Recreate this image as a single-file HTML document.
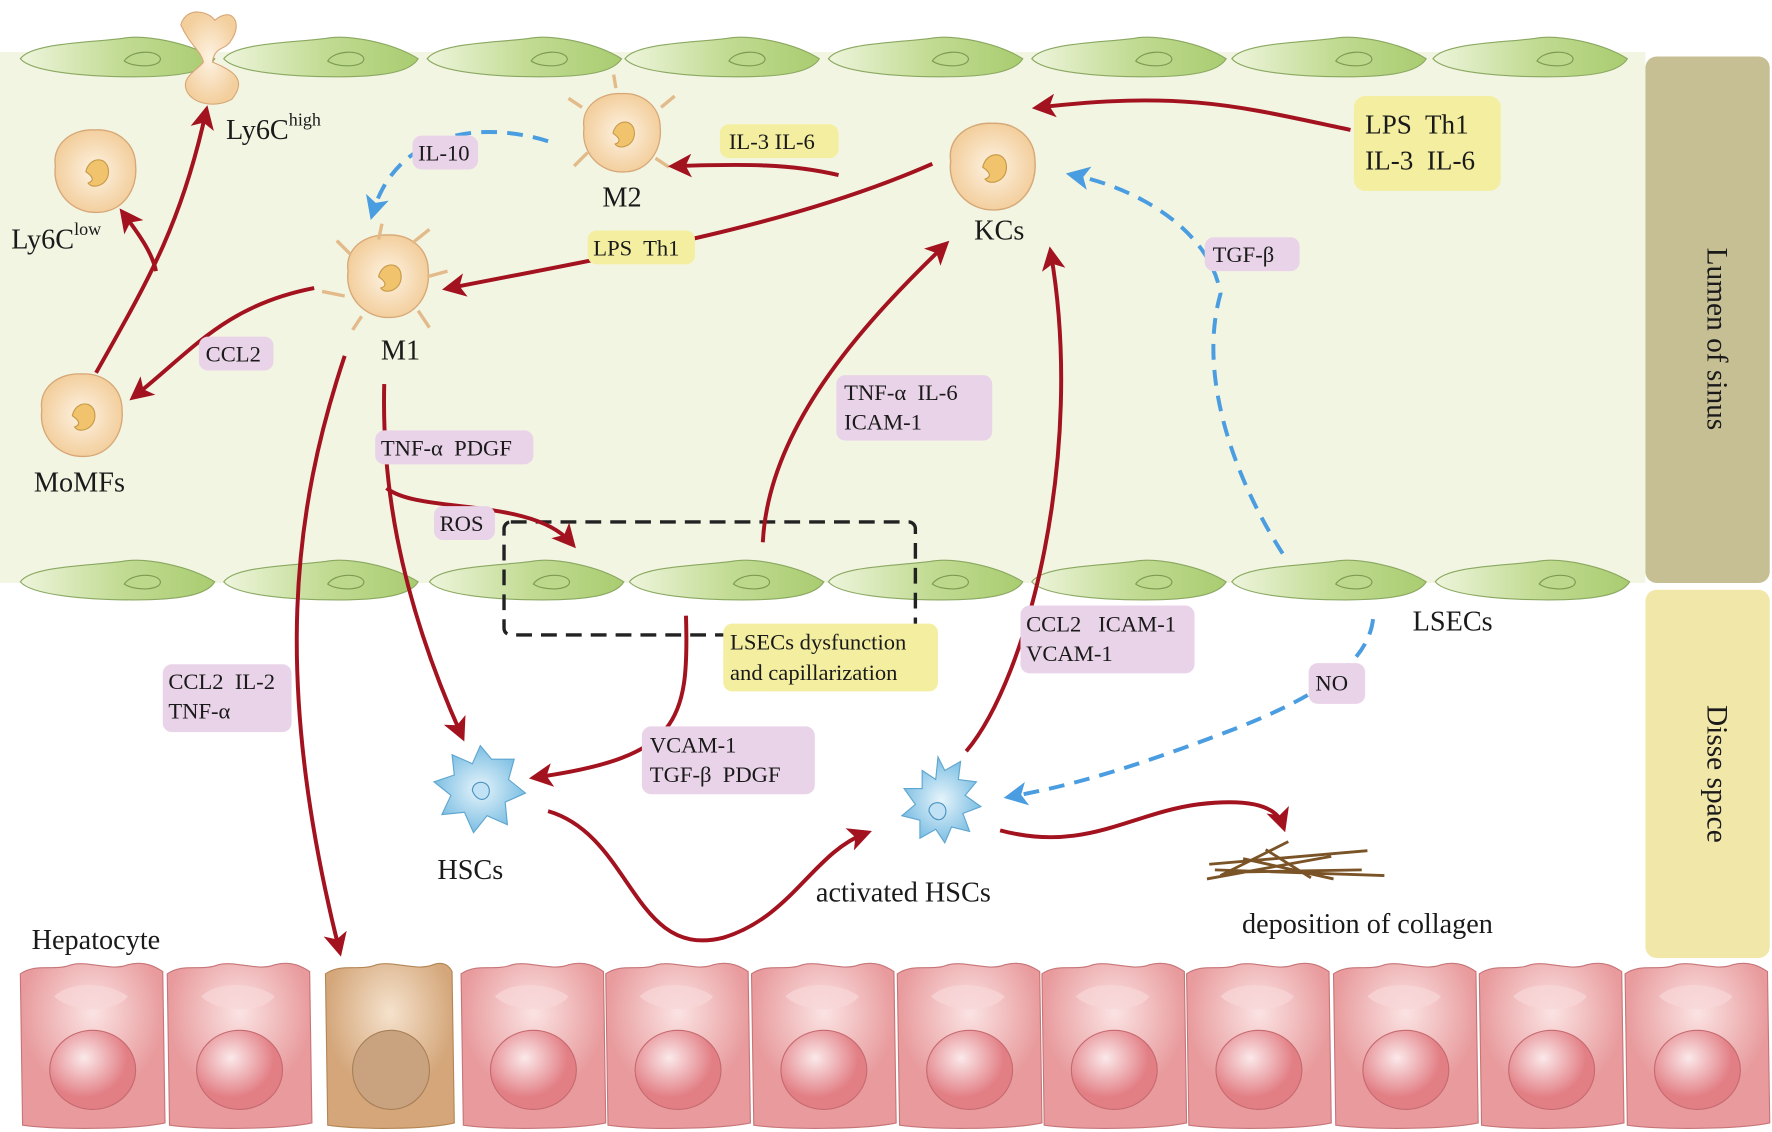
<!DOCTYPE html>
<html><head><meta charset="utf-8"><style>
html,body{margin:0;padding:0;background:#fff;}
svg{display:block;}
text{font-family:"Liberation Serif",serif;fill:#1a1a1a;white-space:pre;}
</style></head><body>
<svg width="1772" height="1132" viewBox="0 0 1568 1002" preserveAspectRatio="none" xmlns="http://www.w3.org/2000/svg" xml:space="preserve">
<defs>
<marker id="ar" markerWidth="6" markerHeight="6" refX="4" refY="3" orient="auto" markerUnits="strokeWidth"><path d="M0,0 L6,3 L0,6 L1.5,3 Z" fill="#a3121f"/></marker>
<marker id="ab" markerWidth="6" markerHeight="6" refX="4" refY="3" orient="auto" markerUnits="strokeWidth"><path d="M0,0 L6,3 L0,6 L1.5,3 Z" fill="#4a9de0"/></marker>
<linearGradient id="gg" x1="0" x2="1"><stop offset="0" stop-color="#eef5dc"/><stop offset="0.5" stop-color="#c3dc95"/><stop offset="1" stop-color="#a9cc70"/></linearGradient>
<radialGradient id="mg"><stop offset="0" stop-color="#fdf3e3"/><stop offset="1" stop-color="#f3cf9e"/></radialGradient>
<radialGradient id="bg"><stop offset="0" stop-color="#e6f4fb"/><stop offset="1" stop-color="#7dbfe3"/></radialGradient>
<radialGradient id="hg" cx="0.5" cy="0.3"><stop offset="0" stop-color="#fbe3e3"/><stop offset="1" stop-color="#e89a9c"/></radialGradient>
<radialGradient id="ng" cx="0.4" cy="0.35"><stop offset="0" stop-color="#fbe9ea"/><stop offset="1" stop-color="#e27f85"/></radialGradient>
<radialGradient id="hb" cx="0.5" cy="0.3"><stop offset="0" stop-color="#f5e2cc"/><stop offset="1" stop-color="#d4a67a"/></radialGradient>
<g id="lsec"><path d="M0,0 C10,-14 60,-14 90,-18 C110,-22 150,-14 172,0 C165,12 140,16 100,16 C60,16 10,12 0,0 Z" fill="url(#gg)" stroke="#8aa860" stroke-width="1"/><path d="M92,2 C98,-8 122,-8 124,0 C124,8 100,8 92,2 Z" fill="#bcd88a" stroke="#7c9a52" stroke-width="1"/></g>
<g id="mac"><path d="M-35,-5 C-38,-25 -20,-38 0,-37 C20,-38 36,-25 36,-5 C38,15 25,36 2,36 C-20,37 -38,18 -35,-5 Z" fill="url(#mg)" stroke="#d7a877" stroke-width="1.2"/><path d="M-8,0 C-5,-14 12,-14 12,0 C12,12 -2,16 -6,10 C0,8 -2,4 -8,0 Z" fill="#f0c36c" stroke="#c89a48"/></g>
<g id="hep"><path d="M0,10 C15,0 30,8 45,2 C60,-2 80,8 95,2 C110,-2 120,4 126,8 L128,142 C100,148 30,148 2,144 Z" fill="url(#hg)" stroke="#c77578" stroke-width="1"/><ellipse cx="64" cy="95" rx="38" ry="35" fill="url(#ng)" stroke="#c56a70"/><path d="M30,30 C45,15 80,18 95,30 C85,45 45,45 30,30Z" fill="#f8d7d8" opacity="0.7"/></g>
</defs>
<rect x="0" y="46" width="1456" height="470" fill="#f3f5e3"/>
<rect x="1456" y="50" width="110" height="466" rx="10" fill="#c7bf94"/>
<text x="1511" y="300" font-size="26" transform="rotate(90 1511 300)" text-anchor="middle">Lumen of sinus</text>
<rect x="1456" y="522" width="110" height="326" rx="10" fill="#f1e7a9"/>
<text x="1511" y="685" font-size="26" transform="rotate(90 1511 685)" text-anchor="middle">Disse space</text>
<use href="#lsec" x="18" y="52"/><use href="#lsec" x="198" y="52"/><use href="#lsec" x="378" y="52"/><use href="#lsec" x="553" y="52"/><use href="#lsec" x="733" y="52"/><use href="#lsec" x="913" y="52"/><use href="#lsec" x="1090" y="52"/><use href="#lsec" x="1268" y="52"/>
<use href="#lsec" x="18" y="515"/><use href="#lsec" x="198" y="515"/><use href="#lsec" x="380" y="515"/><use href="#lsec" x="557" y="515"/><use href="#lsec" x="733" y="515"/><use href="#lsec" x="913" y="515"/><use href="#lsec" x="1090" y="515"/><use href="#lsec" x="1270" y="515"/>
<path d="M160,22 C165,5 185,10 190,18 C205,5 215,20 205,35 C200,45 190,40 188,55 C205,62 220,70 205,88 C190,96 170,92 165,80 C160,68 175,62 180,55 C178,45 168,40 160,22Z" fill="url(#mg)" stroke="#d7a877"/>
<use href="#mac" x="84" y="152"/>
<use href="#mac" x="72" y="368"/>
<use href="#mac" transform="translate(550,118) scale(0.95)"/>
<g stroke="#e3bb8a" stroke-width="3" fill="none"><path d="M515,95 l-12,-8 M520,135 l-12,12 M585,95 l12,-10 M545,78 l-2,-12 M580,140 l12,8"/></g>
<use href="#mac" transform="translate(878,148) scale(1.05)"/>
<use href="#mac" x="343" y="245"/>
<g stroke="#e3bb8a" stroke-width="3" fill="none"><path d="M310,225 l-12,-12 M335,212 l3,-14 M365,215 l15,-12 M378,245 l18,-5 M370,275 l10,15 M305,262 l-20,-4 M320,280 l-8,12"/></g>
<path d="M425,660 l10,12 l20,0 l-5,18 l15,12 l-18,8 l2,20 l-18,-8 l-12,15 l-8,-18 l-20,2 l8,-17 l-15,-12 l18,-6 l-2,-18 l18,8 Z" fill="url(#bg)" stroke="#5ea5d0"/>
<path d="M418,700 c0,-10 15,-10 15,0 c0,8 -10,12 -15,0Z" fill="#c0e2f4" stroke="#4b92bf"/>
<path d="M830,670 l6,12 l14,-8 l-2,16 l16,2 l-10,12 l14,10 l-16,6 l6,16 l-16,-4 l-6,14 l-8,-12 l-14,8 l0,-16 l-16,-4 l12,-10 l-10,-14 l16,0 l0,-16 l12,8 Z" fill="url(#bg)" stroke="#5ea5d0"/>
<path d="M822,718 c0,-10 15,-10 15,0 c0,8 -10,12 -15,0Z" fill="#c0e2f4" stroke="#4b92bf"/>
<g stroke="#7a5326" stroke-width="2.5" fill="none"><path d="M1070,765 l140,-12 M1085,772 l120,-2 M1068,778 l110,-20 M1100,760 l80,18 M1120,752 l40,25 M1140,745 l-60,30 M1075,770 l150,5"/></g>
<use href="#hep" x="18" y="852"/><use href="#hep" x="148" y="852"/>
<g transform="translate(288,852)"><path d="M0,10 C15,0 30,8 45,2 C60,-2 80,8 95,2 C105,-2 110,4 112,8 L114,142 C90,148 30,148 2,144 Z" fill="url(#hb)" stroke="#b48654"/><ellipse cx="58" cy="95" rx="34" ry="35" fill="#c9a380" stroke="#a67f56"/></g>
<use href="#hep" x="408" y="852"/><use href="#hep" x="536" y="852"/><use href="#hep" x="665" y="852"/><use href="#hep" x="794" y="852"/><use href="#hep" x="922" y="852"/><use href="#hep" x="1050" y="852"/><use href="#hep" x="1180" y="852"/><use href="#hep" x="1309" y="852"/><use href="#hep" x="1438" y="852"/>
<rect x="446" y="462" width="364" height="100" rx="6" fill="none" stroke="#222" stroke-width="3" stroke-dasharray="14,8"/>
<g stroke="#a3121f" stroke-width="3.5" fill="none" marker-end="url(#ar)">
<path d="M1195,115 C1100,95 1050,80 920,95"/>
<path d="M742,155 C700,145 660,145 598,147"/>
<path d="M825,145 C700,200 550,225 398,255"/>
<path d="M278,255 C200,270 170,310 120,350"/>
<path d="M85,330 C130,250 160,200 182,100"/>
<path d="M138,240 C135,225 125,210 110,190"/>
<path d="M305,315 C260,450 240,600 300,840"/>
<path d="M340,340 C338,420 350,520 408,650"/>
<path d="M342,432 C370,455 470,440 505,480"/>
<path d="M675,480 C680,380 760,290 835,218"/>
<path d="M855,665 C910,600 960,400 930,225"/>
<path d="M607,545 C610,640 600,670 475,688"/>
<path d="M485,718 C560,740 560,850 640,830 C700,812 720,755 765,738"/>
<path d="M885,735 C960,755 1000,720 1060,712 C1110,706 1130,715 1135,730"/>
</g>
<g stroke="#4a9de0" stroke-width="3.5" fill="none" stroke-dasharray="14,9" marker-end="url(#ab)">
<path d="M485,125 C420,105 350,120 330,188"/>
<path d="M1135,490 C1090,420 1060,330 1080,260 C1070,200 1000,165 950,155"/>
<path d="M1215,548 C1210,590 1160,620 1080,650 C1000,680 950,695 895,705"/>
</g>
<g font-size="20">
<rect x="365" y="120" width="58" height="30" rx="8" fill="#e9d3e8"/><text x="370" y="142">IL-10</text>
<rect x="637" y="110" width="105" height="30" rx="8" fill="#f3eea0"/><text x="645" y="132">IL-3 IL-6</text>
<rect x="520" y="204" width="95" height="30" rx="8" fill="#f3eea0"/><text x="525" y="226">LPS  Th1</text>
<rect x="176" y="298" width="66" height="30" rx="8" fill="#e9d3e8"/><text x="182" y="320">CCL2</text>
<rect x="332" y="381" width="140" height="30" rx="8" fill="#e9d3e8"/><text x="337" y="403">TNF-α  PDGF</text>
<rect x="384" y="448" width="54" height="30" rx="8" fill="#e9d3e8"/><text x="389" y="470">ROS</text>
<rect x="740" y="332" width="138" height="58" rx="8" fill="#e9d3e8"/><text x="747" y="354">TNF-α  IL-6</text><text x="747" y="380">ICAM-1</text>
<rect x="1066" y="210" width="84" height="30" rx="8" fill="#e9d3e8"/><text x="1073" y="232">TGF-β</text>
<rect x="903" y="536" width="154" height="60" rx="8" fill="#e9d3e8"/><text x="908" y="559">CCL2   ICAM-1</text><text x="908" y="585">VCAM-1</text>
<rect x="1158" y="587" width="50" height="36" rx="8" fill="#e9d3e8"/><text x="1164" y="611">NO</text>
<rect x="640" y="552" width="190" height="60" rx="8" fill="#f3eea0"/><text x="646" y="575">LSECs dysfunction</text><text x="646" y="602">and capillarization</text>
<rect x="568" y="643" width="153" height="60" rx="8" fill="#e9d3e8"/><text x="575" y="666">VCAM-1</text><text x="575" y="692">TGF-β  PDGF</text>
<rect x="144" y="588" width="114" height="60" rx="8" fill="#e9d3e8"/><text x="149" y="610">CCL2  IL-2</text><text x="149" y="636">TNF-α</text>
</g>
<rect x="1198" y="85" width="130" height="84" rx="10" fill="#f3eea0"/>
<text x="1208" y="118" font-size="24">LPS  Th1</text><text x="1208" y="150" font-size="24">IL-3  IL-6</text>
<g font-size="25">
<text x="200" y="123">Ly6C<tspan font-size="16" dy="-12">high</tspan></text>
<text x="10" y="220">Ly6C<tspan font-size="16" dy="-12">low</tspan></text>
<text x="533" y="183">M2</text>
<text x="862" y="212">KCs</text>
<text x="337" y="318">M1</text>
<text x="30" y="435">MoMFs</text>
<text x="1250" y="558">LSECs</text>
<text x="387" y="778">HSCs</text>
<text x="722" y="798">activated HSCs</text>
<text x="1099" y="826">deposition of collagen</text>
<text x="28" y="840">Hepatocyte</text>
</g>
</svg>
</body></html>
